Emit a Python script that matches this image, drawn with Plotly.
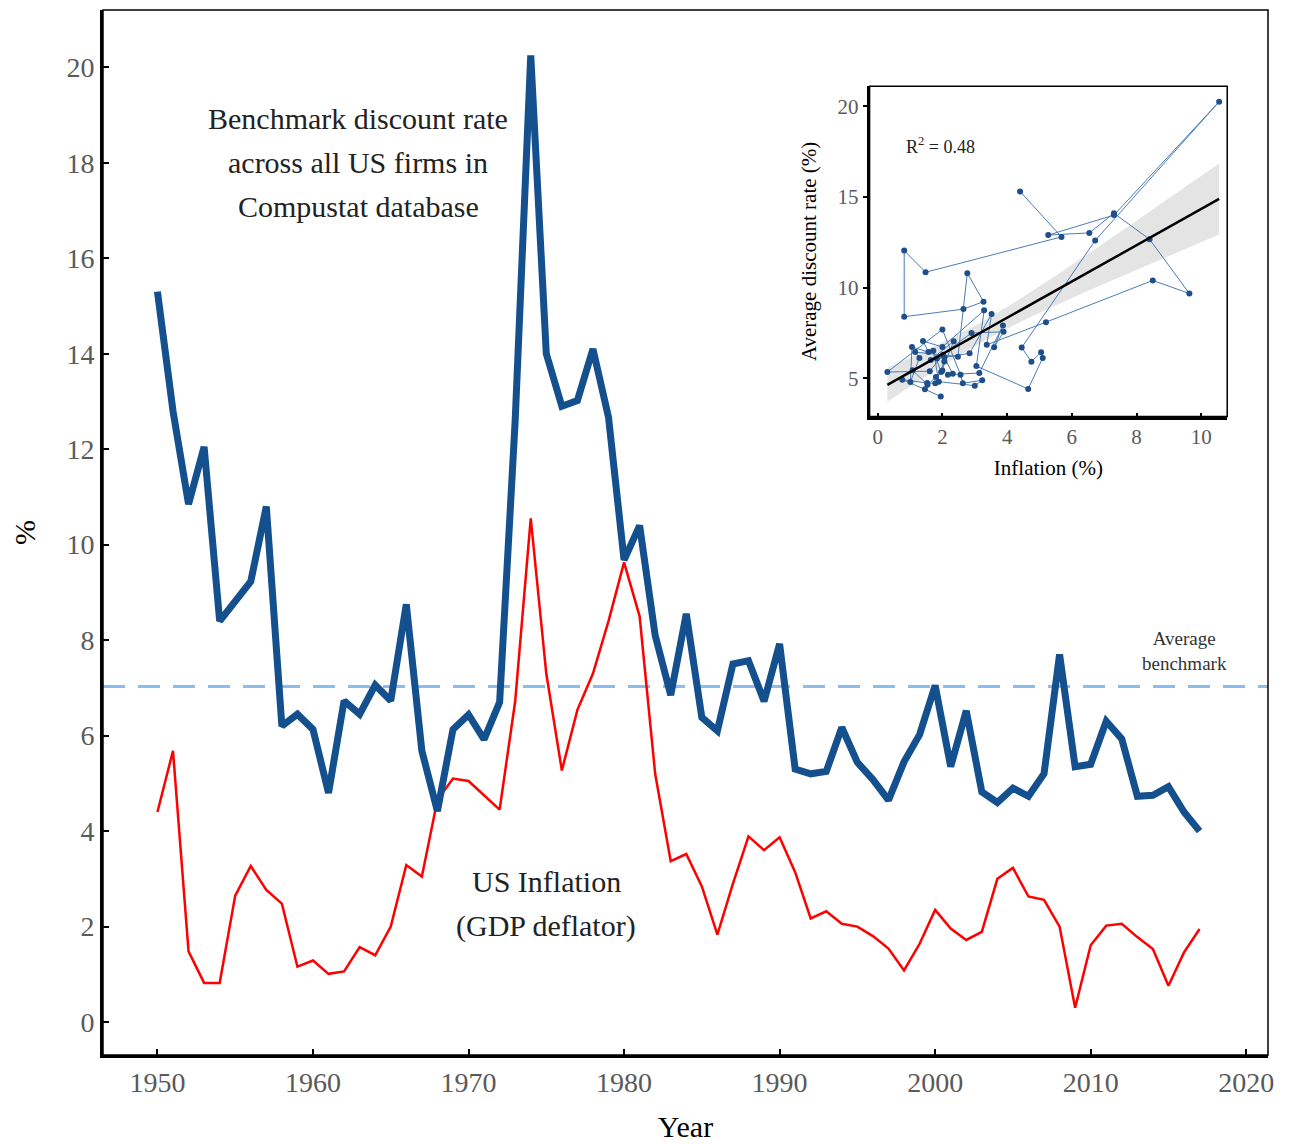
import numpy as np
import plotly.graph_objects as go

# Data
years = list(range(1950, 2018))

discount_rate = [
    15.3, 12.8, 10.85, 12.05, 8.4, 8.82, 9.23, 10.8, 6.2, 6.45,
    6.13, 4.8, 6.73, 6.45, 7.06, 6.73, 8.75, 5.68, 4.42, 6.13,
    6.44, 5.92, 6.7, 12.6, 20.25, 14.0, 12.9, 13.02, 14.1, 12.67,
    9.68, 10.4, 8.1, 6.85, 8.55, 6.38, 6.1, 7.5, 7.57, 6.72,
    7.92, 5.3, 5.2, 5.25, 6.17, 5.44, 5.08, 4.65, 5.45, 6.02,
    7.05, 5.35, 6.52, 4.82, 4.6, 4.9, 4.73, 5.2, 7.7, 5.35,
    5.4, 6.3, 5.93, 4.73, 4.75, 4.93, 4.4, 4.0,
]

inflation = [
    4.4, 5.68, 1.48, 0.82, 0.82, 2.65, 3.27, 2.77, 2.48, 1.16,
    1.29, 1.01, 1.06, 1.57, 1.4, 2.0, 3.29, 3.05, 4.65, 5.1,
    5.05, 4.75, 4.45, 6.72, 10.55, 7.3, 5.27, 6.54, 7.3, 8.4,
    9.63, 8.5, 5.2, 3.37, 3.52, 2.84, 1.83, 2.9, 3.89, 3.6,
    3.87, 3.14, 2.17, 2.32, 2.06, 2.0, 1.8, 1.54, 1.08, 1.64,
    2.35, 1.96, 1.72, 1.89, 3.0, 3.23, 2.63, 2.56, 2.0, 0.3,
    1.61, 2.02, 2.06, 1.78, 1.53, 0.76, 1.46, 1.95,
]

avg_benchmark = 7.03

year_ticks = [1950, 1960, 1970, 1980, 1990, 2000, 2010, 2020]
pct_ticks = [0, 2, 4, 6, 8, 10, 12, 14, 16, 18, 20]
inset_x_ticks = [0, 2, 4, 6, 8, 10]
inset_y_ticks = [5, 10, 15, 20]

benchmark_label = ['Benchmark discount rate', 'across all US firms in', 'Compustat database']
inflation_label = ['US Inflation', '(GDP deflator)']

# Colours / fonts
BLUE = '#13508d'
RED = '#ff0000'
DASH = '#8cbcec'
FONT = 'Liberation Serif'
TICK_GREY = '#5a5a5a'

# Linear fit with 95% band for the inset
xa = np.array(inflation)
ya = np.array(discount_rate)
slope, intercept = np.polyfit(xa, ya, 1)
n = len(xa)
resid = ya - (slope * xa + intercept)
s = np.sqrt(np.sum(resid ** 2) / (n - 2))
sxx = np.sum((xa - xa.mean()) ** 2)
x_fit = np.linspace(xa.min(), xa.max(), 60)
y_fit = slope * x_fit + intercept
half = 2.0 * s * np.sqrt(1 / n + (x_fit - xa.mean()) ** 2 / sxx)

fig = go.Figure()

# Main chart
fig.add_trace(go.Scatter(x=[1946.5, 2021.4], y=[avg_benchmark, avg_benchmark], mode='lines',
                         line=dict(color=DASH, width=3, dash='22px,13px'), showlegend=False))
fig.add_trace(go.Scatter(x=years, y=inflation, mode='lines',
                         line=dict(color=RED, width=2.5), showlegend=False))
fig.add_trace(go.Scatter(x=years, y=discount_rate, mode='lines',
                         line=dict(color=BLUE, width=7), showlegend=False))

# Inset
fig.add_trace(go.Scatter(x=np.concatenate([x_fit, x_fit[::-1]]),
                         y=np.concatenate([y_fit + half, (y_fit - half)[::-1]]),
                         fill='toself', fillcolor='#e4e4e4', line=dict(width=0),
                         mode='lines', showlegend=False, xaxis='x2', yaxis='y2'))
fig.add_trace(go.Scatter(x=inflation, y=discount_rate, mode='lines+markers',
                         line=dict(color='#4a7cb5', width=1),
                         marker=dict(color='#1f4f8a', size=6),
                         showlegend=False, xaxis='x2', yaxis='y2'))
fig.add_trace(go.Scatter(x=x_fit, y=y_fit, mode='lines', line=dict(color='black', width=2.5),
                         showlegend=False, xaxis='x2', yaxis='y2'))

axis_common = dict(showgrid=False, zeroline=False, showline=True, linecolor='black',
                   ticks='inside', tickcolor='black')

# page body adds an 8px offset, margins compensate for it
fig.update_layout(
    width=1289, height=1144,
    margin=dict(l=95, r=29, t=2, b=97),
    paper_bgcolor='white', plot_bgcolor='white',
    font=dict(family=FONT, color='black'),
    xaxis=dict(**axis_common, range=[1946.5, 2021.4], tickvals=year_ticks,
               linewidth=3, ticklen=6, tickwidth=2,
               tickfont=dict(size=28, color=TICK_GREY, family=FONT),
               title=dict(text='Year', font=dict(size=30, family=FONT), standoff=20)),
    yaxis=dict(**axis_common, range=[-0.69, 21.2], tickvals=pct_ticks,
               linewidth=3, ticklen=6, tickwidth=2,
               tickfont=dict(size=28, color=TICK_GREY, family=FONT),
               title=dict(text='%', font=dict(size=30, family=FONT), standoff=27)),
    xaxis2=dict(showgrid=False, zeroline=False, showline=True, linecolor='black',
                linewidth=2.5, ticks='inside', ticklen=4, tickwidth=1.5, tickcolor='black',
                domain=[0.658, 0.965], anchor='y2', range=[-0.25, 10.8], tickvals=inset_x_ticks,
                tickfont=dict(size=21, color=TICK_GREY, family=FONT),
                title=dict(text='Inflation (%)', font=dict(size=21, family=FONT), standoff=12)),
    yaxis2=dict(showgrid=False, zeroline=False, showline=True, linecolor='black',
                linewidth=2.5, ticks='outside', ticklen=4, tickwidth=1.5, tickcolor='black',
                domain=[0.611, 0.927], anchor='x2', range=[2.9, 21.1], tickvals=inset_y_ticks,
                tickfont=dict(size=21, color=TICK_GREY, family=FONT),
                title=dict(text='Average discount rate (%)', font=dict(size=21, family=FONT), standoff=16)),
)

# Frames (thin top / right edges)
fig.add_shape(type='rect', xref='paper', yref='paper', x0=0, x1=1, y0=0, y1=1,
              line=dict(color='black', width=1.5), layer='above')
fig.add_shape(type='rect', xref='x2 domain', yref='y2 domain', x0=0, x1=1, y0=0, y1=1,
              line=dict(color='black', width=1.5), layer='above')

# Labels (one annotation per line to get the wider line spacing of the original)
for i, line in enumerate(benchmark_label):
    fig.add_annotation(x=1962.9, y=18.0, xref='x', yref='y', yshift=44 - 44 * i,
                       showarrow=False, text=line,
                       font=dict(size=30, color='#222222', family=FONT))
for i, line in enumerate(inflation_label):
    fig.add_annotation(x=1975.0, y=2.48, xref='x', yref='y', yshift=22 - 44 * i,
                       showarrow=False, text=line,
                       font=dict(size=30, color='#222222', family=FONT))
fig.add_annotation(x=2016.0, y=7.77, xref='x', yref='y', showarrow=False,
                   text='Average<br>benchmark',
                   font=dict(size=19, color='#333333', family=FONT), align='center')
fig.add_annotation(x=0.8, y=17.85, xref='x2', yref='y2', showarrow=False, xanchor='left',
                   text='R<sup>2</sup> = 0.48',
                   font=dict(size=18, color='#222222', family=FONT))

fig.write_html("out.html")
